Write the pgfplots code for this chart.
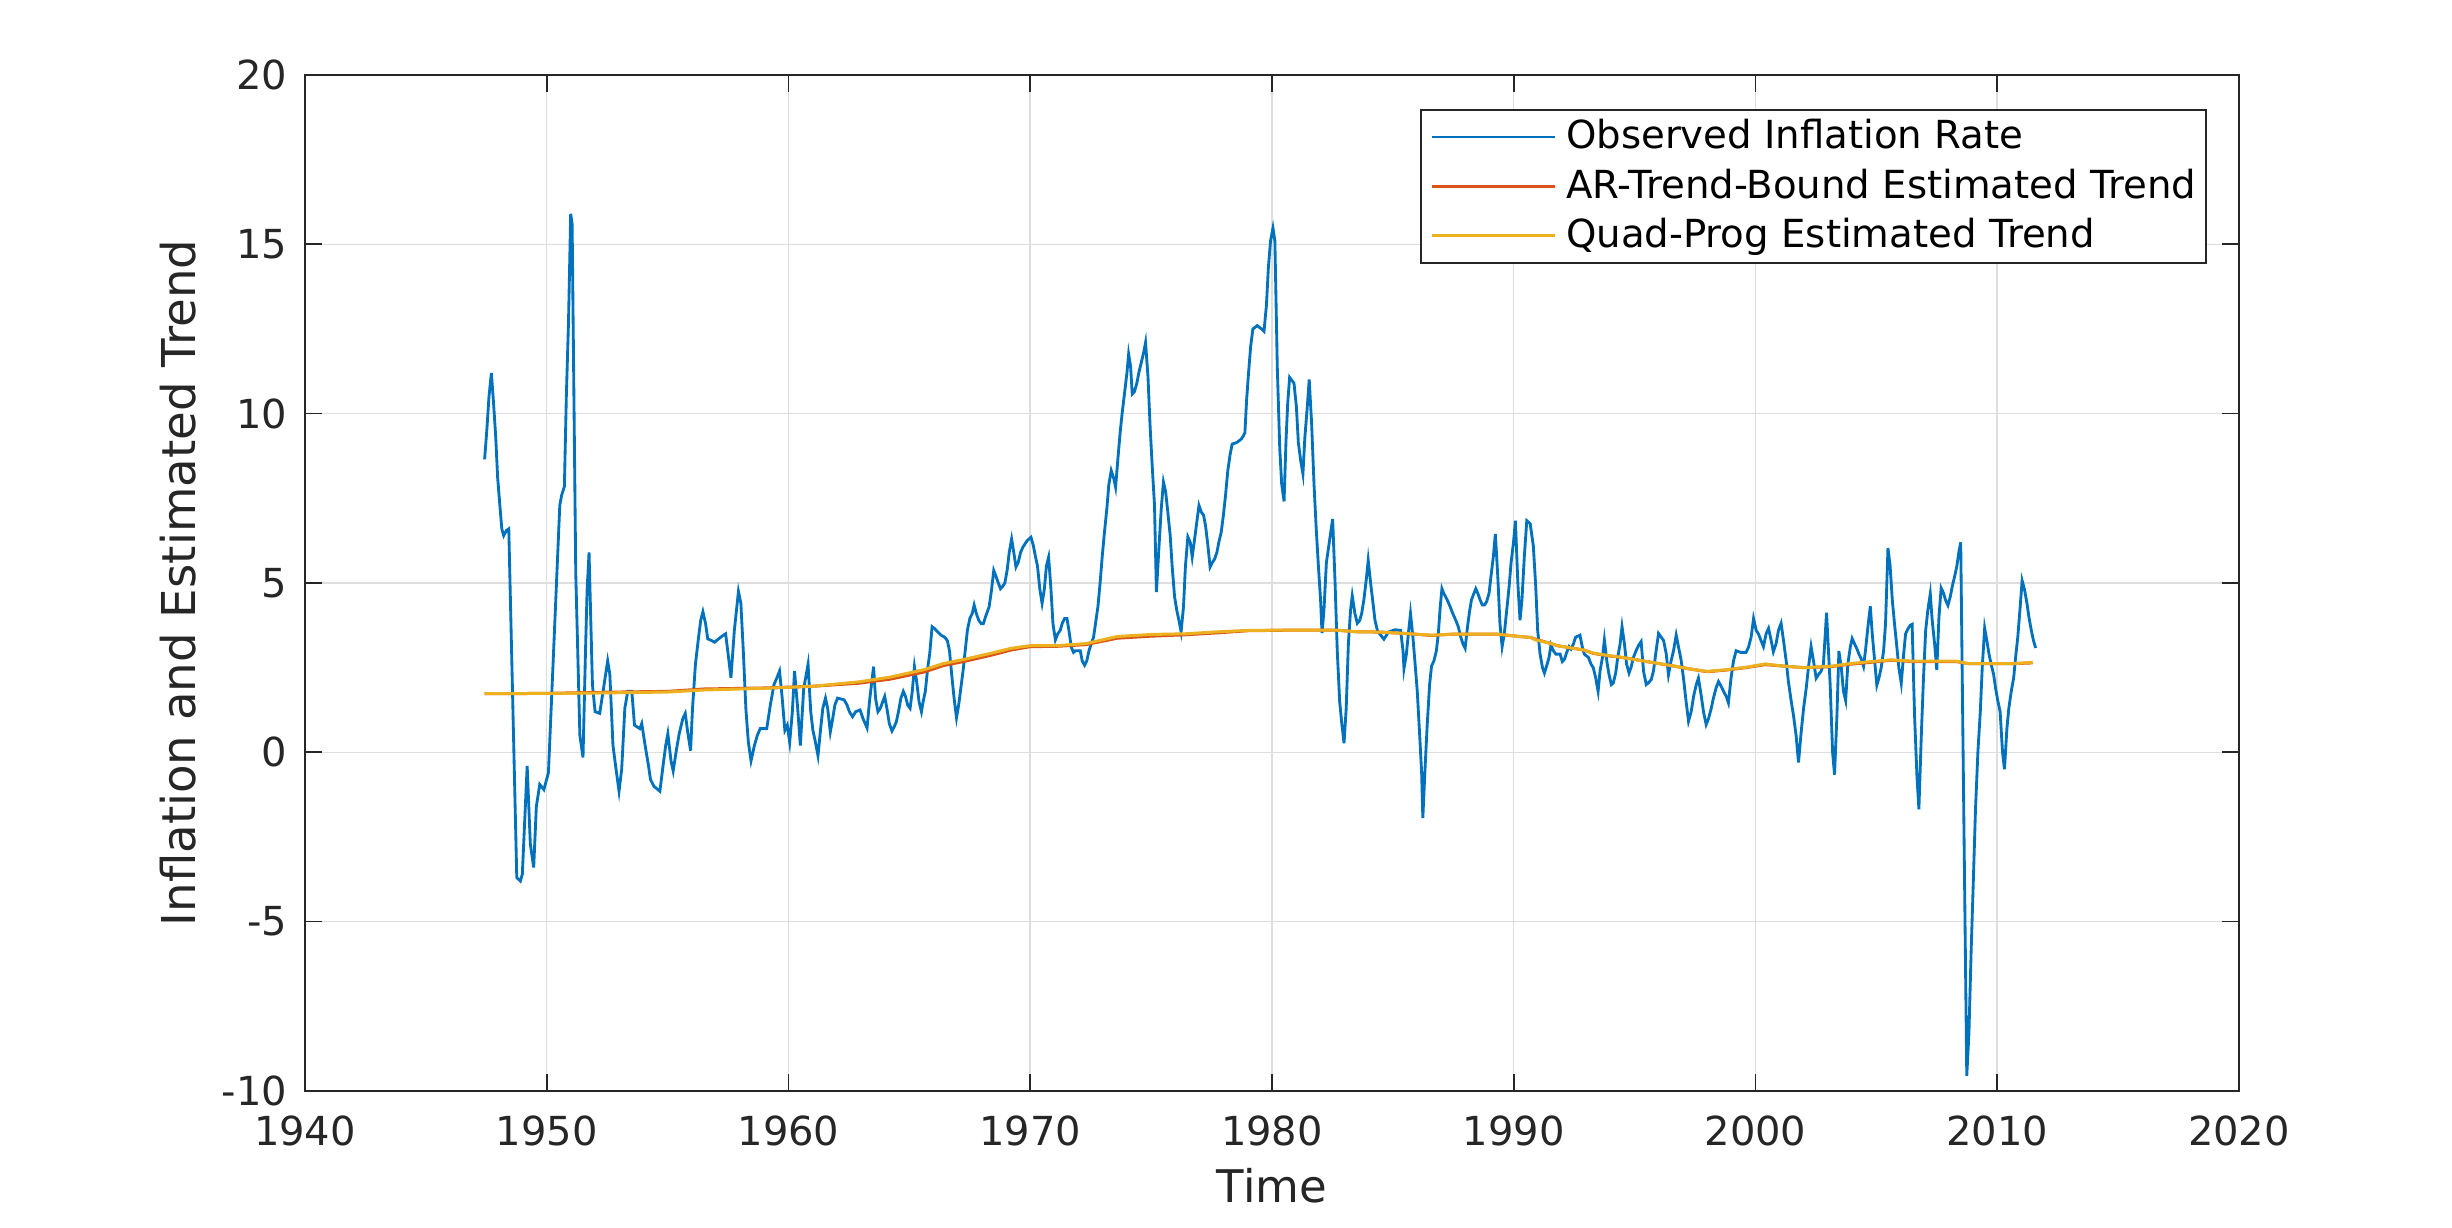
\documentclass[border=0pt]{standalone}
\usepackage{fontspec}
\setmainfont{DejaVu Sans}
\usepackage{pgfplots}
\pgfplotsset{compat=1.18}
\definecolor{mblue}{rgb}{0,0.447,0.741}
\definecolor{mred}{rgb}{0.85,0.325,0.098}
\definecolor{myel}{rgb}{0.929,0.694,0.125}
\definecolor{axgray}{rgb}{0.15,0.15,0.15}
\definecolor{gridgray}{rgb}{0.87,0.87,0.87}
\begin{document}
\begin{tikzpicture}
\begin{axis}[
  scale only axis, width=580.2pt, height=304.8pt,
  at={(0pt,0pt)}, anchor=south west,
  xmin=1940, xmax=2020, ymin=-10, ymax=20,
  xtick={1940,1950,...,2020}, ytick={-10,-5,...,20},
  grid=major, grid style={line width=0.45pt, draw=gridgray},
  tick align=inside, major tick length=5.2pt,
  tick style={line width=0.5pt, draw=axgray},
  axis line style={line width=0.5pt, draw=axgray},
  /pgf/number format/assume math mode=true,
  /pgf/number format/1000 sep={},
  ticklabel style={font=\fontsize{12}{14}\selectfont, text=axgray},
  xticklabel style={yshift=-3.8pt},
  yticklabel style={xshift=-1.8pt},
  xlabel={Time}, ylabel={Inflation and Estimated Trend},
  xlabel style={font=\fontsize{13.5}{16}\selectfont, text=axgray, at={(axis description cs:0.5,0)}, anchor=north, yshift=-19.7pt},
  ylabel style={font=\fontsize{14}{16}\selectfont, text=axgray, at={([xshift=-29.2pt]axis description cs:0,0.5)}, anchor=south},
  legend cell align=left,
  legend image code/.code={\draw[#1] (0pt,0pt) -- (36.9pt,0pt);},
  legend style={at={(1,1)}, anchor=north east, xshift=-9.6pt, yshift=-10.2pt,
    font=\fontsize{11.6}{13}\selectfont, draw=axgray, line width=0.5pt,
    inner xsep=3pt, inner ysep=2.45pt, row sep=3.4pt, column sep=2.8pt,
    nodes={inner sep=0pt, text height=9.3pt, text depth=2.1pt}},
]
\addplot[mblue, line width=0.85pt] coordinates {
(1947.43,8.65)(1947.53,9.6)(1947.61,10.5)(1947.71,11.2)(1947.81,10.2)(1947.89,9.3)(1947.97,8.1)(1948.06,7.3)(1948.14,6.6)(1948.22,6.4)(1948.33,6.55)(1948.43,6.6)(1948.76,-3.7)(1948.91,-3.8)(1948.99,-3.6)(1949.19,-0.4)(1949.32,-2.7)(1949.46,-3.4)(1949.57,-1.6)(1949.71,-0.95)(1949.88,-1.1)(1950.07,-0.6)(1950.54,7.3)(1950.62,7.6)(1950.73,7.85)(1950.81,10.5)(1950.90,12.7)(1950.99,15.9)(1951.05,15.6)(1951.20,5.3)(1951.37,0.5)(1951.50,-0.15)(1951.60,2.9)(1951.67,4.8)(1951.75,5.9)(1951.89,2.0)(1952.00,1.2)(1952.19,1.15)(1952.33,1.8)(1952.52,2.7)(1952.61,2.3)(1952.74,0.2)(1952.83,-0.3)(1952.99,-1.15)(1953.10,-0.5)(1953.23,1.3)(1953.35,1.8)(1953.52,1.8)(1953.63,0.8)(1953.85,0.7)(1953.93,0.85)(1954.07,0.2)(1954.21,-0.4)(1954.29,-0.8)(1954.43,-1.0)(1954.68,-1.15)(1954.81,-0.4)(1954.92,0.2)(1955.01,0.55)
(1955.14,-0.25)(1955.23,-0.55)(1955.37,0.1)(1955.48,0.55)(1955.63,1.0)(1955.73,1.15)(1955.83,0.6)(1955.95,0.05)(1956.03,1.3)(1956.15,2.6)(1956.28,3.4)(1956.37,3.9)(1956.46,4.15)(1956.57,3.8)(1956.66,3.35)(1956.82,3.3)(1956.94,3.25)(1957.11,3.35)(1957.29,3.45)(1957.40,3.5)(1957.52,2.8)(1957.62,2.2)(1957.76,3.6)(1957.93,4.75)(1958.03,4.4)(1958.13,3.0)(1958.24,1.25)(1958.34,0.3)(1958.45,-0.25)(1958.59,0.2)(1958.71,0.5)(1958.83,0.7)(1959.10,0.7)(1959.25,1.4)(1959.40,2.0)(1959.52,2.2)(1959.63,2.4)(1959.74,1.6)(1959.85,0.65)(1959.95,0.8)(1960.05,0.3)(1960.16,1.2)(1960.25,2.4)(1960.38,1.3)(1960.49,0.2)(1960.63,1.9)(1960.71,2.2)(1960.81,2.6)(1960.92,1.2)(1961.01,0.65)(1961.10,0.35)(1961.22,-0.1)(1961.33,0.7)(1961.42,1.3)(1961.53,1.6)(1961.62,1.3)(1961.73,0.6)(1961.83,1.0)(1961.92,1.4)(1962.03,1.6)(1962.30,1.55)(1962.42,1.4)(1962.52,1.2)(1962.65,1.05)(1962.78,1.2)(1962.96,1.25)
(1963.08,1.0)(1963.25,0.72)(1963.35,1.5)(1963.44,2.05)(1963.52,2.53)(1963.60,1.6)(1963.70,1.2)(1963.80,1.3)(1963.90,1.5)(1963.98,1.65)(1964.07,1.3)(1964.17,0.85)(1964.28,0.63)(1964.37,0.75)(1964.46,0.9)(1964.55,1.2)(1964.65,1.6)(1964.75,1.8)(1964.84,1.65)(1964.93,1.4)(1965.03,1.3)(1965.12,1.8)(1965.21,2.53)(1965.30,2.1)(1965.40,1.5)(1965.50,1.2)(1965.57,1.5)(1965.66,1.8)(1965.76,2.5)(1965.84,2.9)(1965.94,3.71)(1966.05,3.65)(1966.18,3.55)(1966.33,3.45)(1966.46,3.4)(1966.57,3.3)(1966.66,3.0)(1966.75,2.3)(1966.85,1.6)(1966.95,1.02)(1967.04,1.4)(1967.13,1.9)(1967.22,2.4)(1967.31,3.0)(1967.40,3.6)(1967.50,3.95)(1967.60,4.1)(1967.68,4.35)(1967.77,4.1)(1967.87,3.9)(1967.97,3.8)(1968.06,3.8)(1968.15,4.0)(1968.30,4.3)(1968.40,4.8)(1968.49,5.37)(1968.58,5.2)(1968.68,5.0)(1968.77,4.83)(1968.86,4.9)(1968.95,5.0)(1969.05,5.4)(1969.13,5.9)(1969.23,6.3)(1969.32,5.9)(1969.41,5.47)(1969.50,5.6)(1969.60,5.9)(1969.69,6.05)(1969.78,6.15)(1969.87,6.25)(1970.03,6.35)(1970.13,6.1)(1970.21,5.8)(1970.30,5.5)(1970.40,4.8)(1970.49,4.4)(1970.58,4.8)(1970.67,5.5)(1970.76,5.76)(1970.85,4.9)(1970.94,3.8)(1971.04,3.32)
(1971.14,3.5)(1971.24,3.6)(1971.32,3.8)(1971.42,3.95)(1971.52,3.95)(1971.60,3.6)(1971.70,3.1)(1971.79,2.95)(1971.87,3.0)(1972.07,3.0)(1972.15,2.7)(1972.25,2.57)(1972.34,2.7)(1972.43,3.0)(1972.52,3.2)(1972.62,3.4)(1972.70,3.8)(1972.80,4.3)(1972.89,5.0)(1972.98,5.8)(1973.07,6.5)(1973.17,7.2)(1973.25,7.9)(1973.35,8.32)(1973.45,8.1)(1973.53,7.83)(1973.63,8.7)(1973.72,9.45)(1973.80,10.0)(1973.90,10.6)(1974.00,11.2)(1974.07,11.76)(1974.15,11.4)(1974.22,10.58)(1974.31,10.65)(1974.41,10.9)(1974.49,11.2)(1974.59,11.5)(1974.69,11.8)(1974.77,12.1)(1974.87,11.1)(1974.96,9.6)(1975.05,8.4)(1975.14,7.3)(1975.22,4.73)(1975.32,6.0)(1975.42,7.2)(1975.51,7.98)(1975.60,7.7)(1975.69,7.1)(1975.79,6.4)(1975.87,5.5)(1975.97,4.6)(1976.06,4.2)(1976.15,3.9)(1976.24,3.56)(1976.34,4.3)(1976.42,5.5)(1976.52,6.36)(1976.62,6.2)(1976.70,5.77)(1976.80,6.3)(1976.89,6.8)(1976.98,7.29)(1977.07,7.1)(1977.17,7.0)(1977.25,6.7)(1977.35,6.1)(1977.44,5.47)(1977.53,5.6)(1977.62,5.7)(1977.72,5.9)(1977.80,6.2)(1977.90,6.5)(1977.99,7.0)(1978.08,7.6)(1978.17,8.3)(1978.27,8.8)(1978.35,9.1)(1978.55,9.15)(1978.73,9.25)(1978.82,9.35)
(1978.88,9.44)(1978.95,10.4)(1979.03,11.2)(1979.12,12.0)(1979.21,12.5)(1979.39,12.6)(1979.57,12.5)(1979.67,12.43)(1979.77,13.2)(1979.85,14.3)(1979.94,15.1)(1980.04,15.48)(1980.12,15.1)(1980.22,11.36)(1980.32,9.0)(1980.40,7.93)(1980.50,7.41)(1980.58,9.2)(1980.65,10.3)(1980.73,11.07)(1980.91,10.9)(1981.01,10.2)(1981.09,9.15)(1981.19,8.6)(1981.28,8.22)(1981.36,9.3)(1981.46,10.2)(1981.54,11.01)(1981.64,9.7)(1981.74,7.9)(1981.83,6.6)(1981.92,5.5)(1982.01,4.5)(1982.07,3.52)(1982.15,4.2)(1982.25,5.6)(1982.33,6.0)(1982.43,6.5)(1982.51,6.89)(1982.61,5.0)(1982.70,3.0)(1982.80,1.5)(1982.88,0.9)(1982.98,0.27)(1983.07,1.3)(1983.16,3.2)(1983.25,4.2)(1983.32,4.62)(1983.43,4.1)(1983.53,3.81)(1983.63,3.9)(1983.71,4.1)(1983.80,4.5)(1983.90,5.1)(1983.98,5.67)(1984.08,5.0)(1984.18,4.4)(1984.26,3.9)(1984.36,3.6)(1984.45,3.5)(1984.54,3.42)(1984.63,3.34)(1984.73,3.45)(1984.81,3.55)(1985.09,3.62)(1985.32,3.6)(1985.42,3.0)(1985.46,2.47)(1985.56,2.9)(1985.64,3.5)(1985.73,4.1)(1985.83,3.4)(1985.91,2.7)(1986.01,1.8)(1986.11,0.5)(1986.19,-0.6)(1986.24,-1.94)(1986.33,-0.5)(1986.42,0.8)(1986.52,2.0)(1986.60,2.55)(1986.70,2.7)(1986.80,3.0)(1986.88,3.5)(1986.96,4.3)(1987.03,4.83)
(1987.10,4.7)(1987.18,4.6)(1987.28,4.45)(1987.37,4.3)(1987.45,4.15)(1987.54,4.0)(1987.63,3.85)(1987.71,3.7)(1987.81,3.4)(1987.90,3.2)(1987.99,3.07)(1988.07,3.6)(1988.16,4.1)(1988.25,4.5)(1988.33,4.65)(1988.43,4.83)(1988.51,4.7)(1988.61,4.5)(1988.70,4.35)(1988.79,4.35)(1988.88,4.45)(1988.98,4.7)(1989.06,5.2)(1989.16,5.8)(1989.24,6.45)(1989.34,5.2)(1989.43,3.8)(1989.52,3.12)(1989.61,3.5)(1989.71,4.2)(1989.81,4.9)(1989.89,5.6)(1989.99,6.2)(1990.07,6.84)(1990.17,5.0)(1990.26,3.9)(1990.34,4.5)(1990.44,5.8)(1990.54,6.84)(1990.68,6.75)(1990.81,6.1)(1990.91,4.9)(1990.99,3.6)(1991.09,2.9)(1991.19,2.5)(1991.27,2.34)(1991.36,2.55)(1991.46,2.8)(1991.54,3.17)(1991.64,3.0)(1991.74,2.9)(1991.92,2.9)(1992.01,2.68)(1992.10,2.75)(1992.19,2.95)(1992.29,3.12)(1992.37,3.05)(1992.47,3.2)(1992.56,3.4)(1992.74,3.46)(1992.84,3.1)(1992.92,2.9)(1993.09,2.8)(1993.20,2.6)(1993.29,2.5)(1993.39,2.2)(1993.49,1.8)(1993.57,2.4)(1993.67,2.8)(1993.75,3.32)(1993.85,2.7)(1993.94,2.3)(1994.04,2.0)(1994.12,2.05)(1994.22,2.35)(1994.30,2.8)(1994.40,3.2)(1994.48,3.71)(1994.58,3.2)(1994.67,2.6)(1994.77,2.34)(1994.85,2.5)(1994.95,2.8)
(1995.06,3.0)(1995.16,3.15)(1995.27,3.27)(1995.37,2.4)(1995.48,2.0)(1995.57,2.05)(1995.69,2.15)(1995.78,2.4)(1995.89,3.0)(1995.99,3.51)(1996.10,3.4)(1996.20,3.3)(1996.31,2.9)(1996.40,2.29)(1996.51,2.7)(1996.61,3.0)(1996.72,3.46)(1996.82,3.1)(1996.93,2.7)(1997.02,2.2)(1997.13,1.5)(1997.23,0.92)(1997.34,1.2)(1997.44,1.65)(1997.55,2.0)(1997.64,2.19)(1997.75,1.7)(1997.85,1.2)(1997.96,0.82)(1998.06,1.0)(1998.17,1.3)(1998.26,1.6)(1998.37,1.9)(1998.47,2.09)(1998.58,1.95)(1998.68,1.8)(1998.79,1.65)(1998.88,1.46)(1998.99,2.2)(1999.09,2.7)(1999.20,3.0)(1999.39,2.95)(1999.61,2.95)(1999.71,3.1)(1999.82,3.4)(1999.92,3.95)(2000.03,3.6)(2000.12,3.5)(2000.23,3.3)(2000.33,3.12)(2000.44,3.5)(2000.54,3.66)(2000.65,3.3)(2000.74,2.97)(2000.85,3.2)(2000.95,3.6)(2001.06,3.81)(2001.16,3.3)(2001.27,2.7)(2001.36,2.1)(2001.48,1.5)(2001.57,1.1)(2001.68,0.5)(2001.78,-0.3)(2001.89,0.6)(2001.99,1.3)(2002.10,1.9)(2002.19,2.5)(2002.30,3.12)(2002.40,2.7)(2002.51,2.19)(2002.61,2.3)(2002.72,2.4)(2002.81,2.6)(2002.94,4.12)
(2003.09,2.0)(2003.19,0.0)(2003.27,-0.66)(2003.37,1.1)(2003.45,2.99)(2003.55,2.5)(2003.64,1.8)(2003.73,1.53)(2003.82,2.6)(2003.92,3.1)(2004.00,3.36)(2004.10,3.2)(2004.20,3.05)(2004.28,2.9)(2004.38,2.75)(2004.47,2.54)(2004.55,3.0)(2004.65,3.7)(2004.75,4.31)(2004.83,3.5)(2004.93,2.7)(2005.02,1.98)(2005.11,2.2)(2005.20,2.5)(2005.30,3.0)(2005.38,3.8)(2005.48,6.03)(2005.57,5.5)(2005.66,4.5)(2005.75,3.8)(2005.85,3.1)(2005.93,2.5)(2006.03,2.04)(2006.13,2.9)(2006.21,3.5)(2006.31,3.65)(2006.40,3.75)(2006.48,3.78)(2006.58,1.1)(2006.68,-0.72)(2006.76,-1.68)(2006.86,0.5)(2006.95,2.2)(2007.04,3.6)(2007.13,4.2)(2007.23,4.68)(2007.31,3.9)(2007.41,3.2)(2007.50,2.43)(2007.59,4.0)(2007.68,4.85)(2007.78,4.7)(2007.86,4.5)(2007.96,4.34)(2008.06,4.6)(2008.14,4.9)(2008.24,5.2)(2008.33,5.5)(2008.41,5.9)(2008.49,6.2)(2008.74,-9.55)(2008.83,-8.3)(2008.92,-5.9)(2009.02,-3.6)(2009.10,-1.7)(2009.20,0.0)(2009.30,1.2)(2009.38,2.5)(2009.48,3.67)(2009.57,3.3)(2009.66,2.9)(2009.75,2.6)(2009.85,2.3)(2009.93,1.9)(2010.03,1.5)(2010.12,1.2)(2010.22,0.0)(2010.30,-0.5)(2010.40,0.7)(2010.48,1.3)(2010.58,1.8)(2010.68,2.2)(2010.76,2.8)(2010.85,3.4)(2010.95,4.3)(2011.03,5.07)(2011.13,4.8)(2011.23,4.4)(2011.31,4.0)(2011.41,3.6)(2011.50,3.3)(2011.59,3.08)
};
\addlegendentry{Observed Inflation Rate}
\addplot[mred, line width=0.9pt] coordinates {
(1947.43,1.73)(1950,1.74)(1952,1.77)(1955,1.80)(1956.5,1.87)(1959,1.90)(1961,1.95)(1962.9,2.04)(1964.2,2.16)(1965.6,2.37)(1966.4,2.56)(1967.3,2.69)(1968.4,2.87)(1969.2,3.02)(1970.0,3.12)(1971.1,3.13)(1972.3,3.18)(1973.6,3.37)(1975.0,3.43)(1976.4,3.47)(1977.8,3.53)(1979.0,3.59)(1981,3.61)(1982.6,3.61)(1983.5,3.56)(1984.5,3.55)(1985.7,3.5)(1986.6,3.45)(1987.5,3.49)(1989.3,3.49)(1990.1,3.43)(1990.7,3.39)(1990.9,3.34)(1991.5,3.22)(1991.8,3.15)(1992.3,3.09)(1992.9,3.02)(1993.3,2.92)(1993.9,2.85)(1994.5,2.8)(1995.1,2.73)(1995.5,2.68)(1996.1,2.61)(1996.6,2.55)(1997.3,2.46)(1998.0,2.38)(1998.8,2.43)(1999.6,2.5)(2000.4,2.59)(2001.1,2.55)(2002.0,2.5)(2003.1,2.53)(2003.9,2.6)(2004.8,2.66)(2005.6,2.72)(2006.5,2.68)(2008.3,2.68)(2008.8,2.62)(2010.7,2.62)(2011.46,2.64)
};
\addlegendentry{AR-Trend-Bound Estimated Trend}
\addplot[myel, line width=0.9pt] coordinates {
(1947.43,1.73)(1950,1.74)(1952,1.75)(1955,1.78)(1956.5,1.84)(1959,1.89)(1961,1.95)(1962.9,2.08)(1964.2,2.22)(1965.6,2.44)(1966.4,2.62)(1967.3,2.75)(1968.4,2.93)(1969.2,3.07)(1970.0,3.15)(1971.1,3.15)(1972.3,3.21)(1973.6,3.42)(1975.0,3.48)(1976.4,3.5)(1977.8,3.56)(1979.0,3.6)(1981,3.61)(1982.6,3.61)(1983.5,3.56)(1984.5,3.55)(1985.7,3.5)(1986.6,3.46)(1987.5,3.49)(1989.3,3.49)(1990.1,3.43)(1990.7,3.39)(1990.9,3.32)(1991.5,3.22)(1991.8,3.15)(1992.3,3.09)(1992.9,3.02)(1993.3,2.93)(1993.9,2.86)(1994.5,2.8)(1995.1,2.73)(1995.5,2.68)(1996.1,2.61)(1996.6,2.55)(1997.3,2.46)(1998.0,2.39)(1998.8,2.44)(1999.6,2.51)(2000.4,2.61)(2001.1,2.55)(2002.0,2.5)(2003.1,2.54)(2003.9,2.62)(2004.8,2.68)(2005.6,2.73)(2006.5,2.69)(2008.3,2.69)(2008.8,2.62)(2010.7,2.62)(2011.46,2.66)
};
\addlegendentry{Quad-Prog Estimated Trend}
\end{axis}
\pgfresetboundingbox
\path (-91.5pt,-41.1pt) rectangle (644.1pt,327.3pt);
\end{tikzpicture}
\end{document}
